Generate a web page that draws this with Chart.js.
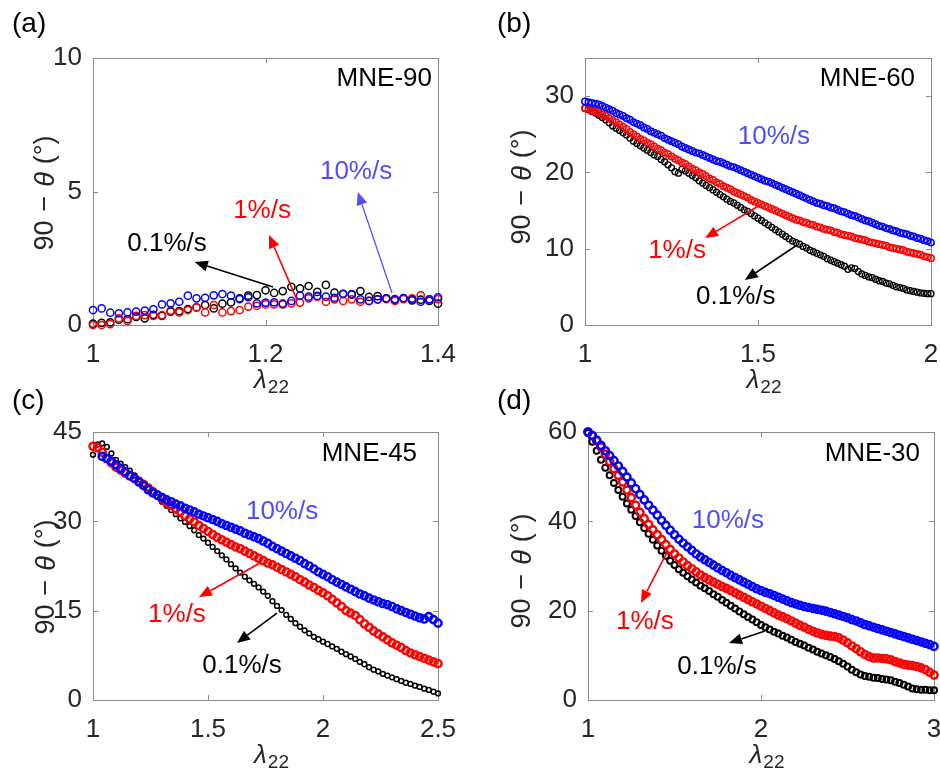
<!DOCTYPE html>
<html><head><meta charset="utf-8">
<script src="https://cdn.jsdelivr.net/npm/chart.js@4.4.1/dist/chart.umd.min.js"></script>
<style>
html,body{margin:0;padding:0;background:#fff;overflow:hidden;width:940px;height:774px;}
canvas{position:absolute;left:0;top:0;}
</style></head><body>
<canvas id="ca" width="980" height="800"></canvas>
<canvas id="cb" width="980" height="800"></canvas>
<canvas id="cc" width="980" height="800"></canvas>
<canvas id="cd" width="980" height="800"></canvas>
<script>
// ---------------- DATA ----------------
// (a) MNE-90
const lambdaA = [1.00,1.01,1.02,1.03,1.04,1.05,1.06,1.07,1.08,1.09,1.10,1.11,1.12,1.13,1.14,1.15,1.16,1.17,1.18,1.19,1.20,1.21,1.22,1.23,1.24,1.25,1.26,1.27,1.28,1.29,1.30,1.31,1.32,1.33,1.34,1.35,1.36,1.37,1.38,1.39,1.40];
const aBlack = [0.05,0.08,0.1,0.2,0.22,0.3,0.25,0.38,0.34,0.5,0.52,0.6,0.66,0.75,0.62,0.8,0.85,1.0,1.1,1.12,1.3,1.2,1.27,1.43,1.37,1.46,1.24,1.5,1.21,1.17,1.14,1.27,1.05,1.08,1.0,0.95,1.0,0.92,0.95,0.9,0.8];
const aRed = [0.0,0.0,0.03,0.25,0.15,0.34,0.37,0.34,0.37,0.54,0.47,0.56,0.66,0.47,0.75,0.47,0.52,0.56,0.69,0.72,0.77,0.77,0.81,0.81,0.84,1.0,1.06,0.87,0.96,0.90,0.96,0.87,0.90,0.96,0.97,0.90,0.97,1.0,1.11,0.96,0.97];
const aBlue = [0.56,0.62,0.46,0.44,0.47,0.5,0.54,0.59,0.77,0.81,0.87,1.10,1.0,1.02,1.11,1.16,1.10,0.97,1.04,0.81,0.84,0.85,0.77,0.90,1.10,1.06,1.09,1.06,1.02,1.16,1.16,0.96,0.90,0.96,1.0,0.97,1.01,0.96,0.87,0.96,1.04];

// (b) MNE-60
const lambdaB = [1.00,1.01,1.02,1.03,1.04,1.05,1.06,1.07,1.08,1.09,1.10,1.11,1.12,1.13,1.14,1.15,1.16,1.17,1.18,1.19,1.20,1.21,1.22,1.23,1.24,1.25,1.26,1.27,1.28,1.29,1.30,1.31,1.32,1.33,1.34,1.35,1.36,1.37,1.38,1.39,1.40,1.41,1.42,1.43,1.44,1.45,1.46,1.47,1.48,1.49,1.50,1.51,1.52,1.53,1.54,1.55,1.56,1.57,1.58,1.59,1.60,1.61,1.62,1.63,1.64,1.65,1.66,1.67,1.68,1.69,1.70,1.71,1.72,1.73,1.74,1.75,1.76,1.77,1.78,1.79,1.80,1.81,1.82,1.83,1.84,1.85,1.86,1.87,1.88,1.89,1.90,1.91,1.92,1.93,1.94,1.95,1.96,1.97,1.98,1.99,2.00];
const bBlue = [29.3,29.2,29.1,29.0,28.9,28.7,28.5,28.3,28.1,27.8,27.6,27.4,27.1,26.9,26.6,26.4,26.2,25.9,25.7,25.4,25.2,25.0,24.8,24.5,24.3,24.1,23.9,23.7,23.4,23.2,23.0,22.8,22.6,22.5,22.3,22.1,21.9,21.7,21.5,21.4,21.2,21.0,20.8,20.7,20.5,20.3,20.1,19.9,19.7,19.5,19.3,19.1,18.9,18.8,18.6,18.4,18.2,18.0,17.8,17.6,17.4,17.2,17.0,16.8,16.6,16.4,16.2,16.0,15.9,15.7,15.6,15.4,15.3,15.1,14.9,14.8,14.6,14.4,14.3,14.1,13.9,13.7,13.6,13.4,13.2,13.0,12.9,12.7,12.6,12.4,12.3,12.1,12.0,11.9,11.7,11.6,11.4,11.3,11.1,11.0,10.8];
const bRed = [28.4,28.3,28.1,28.0,27.8,27.6,27.4,27.1,26.8,26.6,26.3,26.0,25.7,25.3,25.0,24.7,24.4,24.2,23.9,23.7,23.4,23.1,22.9,22.6,22.4,22.1,21.8,21.6,21.3,21.1,20.8,20.5,20.3,20.0,19.8,19.5,19.2,19.0,18.7,18.5,18.2,18.0,17.8,17.5,17.3,17.1,16.9,16.7,16.4,16.2,16.0,15.8,15.6,15.4,15.2,15.0,14.8,14.6,14.4,14.2,14.0,13.8,13.7,13.5,13.4,13.2,13.1,12.9,12.8,12.6,12.5,12.4,12.2,12.1,11.9,11.8,11.7,11.6,11.4,11.3,11.2,11.1,10.9,10.8,10.7,10.6,10.5,10.4,10.2,10.1,10.0,9.9,9.8,9.6,9.5,9.4,9.3,9.2,9.0,8.9,8.75];
const bBlack = [28.4,28.2,28.0,27.8,27.5,27.2,26.9,26.5,26.1,25.8,25.5,25.2,24.9,24.5,24.1,23.8,23.5,23.2,22.9,22.6,22.3,22.1,21.7,21.4,21.0,20.6,20.1,19.9,20.4,20.2,19.9,19.6,19.3,18.9,18.6,18.3,18.0,17.7,17.4,17.1,16.8,16.5,16.2,16.0,15.7,15.4,15.1,14.9,14.6,14.3,14.0,13.7,13.4,13.1,12.8,12.5,12.2,11.9,11.6,11.3,11.0,10.8,10.6,10.3,10.1,9.8,9.6,9.4,9.2,9.0,8.7,8.5,8.3,8.1,7.9,7.7,7.3,7.5,7.4,7.0,6.7,6.5,6.3,6.2,6.0,5.8,5.7,5.5,5.4,5.2,5.0,4.9,4.8,4.6,4.5,4.4,4.3,4.2,4.15,4.1,4.1];

// (c) MNE-45
const lambdaC = [1.00,1.02,1.04,1.06,1.08,1.10,1.12,1.14,1.16,1.18,1.20,1.22,1.24,1.26,1.28,1.30,1.32,1.34,1.36,1.38,1.40,1.42,1.44,1.46,1.48,1.50,1.52,1.54,1.56,1.58,1.60,1.62,1.64,1.66,1.68,1.70,1.72,1.74,1.76,1.78,1.80,1.82,1.84,1.86,1.88,1.90,1.92,1.94,1.96,1.98,2.00,2.02,2.04,2.06,2.08,2.10,2.12,2.14,2.16,2.18,2.20,2.22,2.24,2.26,2.28,2.30,2.32,2.34,2.36,2.38,2.40,2.42,2.44,2.46,2.48,2.50];
const cBlack = [41.2,42.9,43.1,42.5,41.4,40.3,39.7,39.1,38.5,37.7,37.0,36.3,35.6,34.9,34.1,33.3,32.6,31.9,31.2,30.5,29.9,29.2,28.5,27.7,27.1,26.4,25.7,25.0,24.3,23.6,22.8,22.1,21.4,20.7,20.1,19.5,18.9,18.2,17.5,16.6,15.8,15.1,14.3,13.6,12.9,12.3,11.7,11.2,10.6,10.2,9.8,9.4,9.0,8.6,8.1,7.7,7.3,6.9,6.4,6.0,5.5,5.1,4.8,4.4,4.1,3.8,3.5,3.2,2.9,2.7,2.4,2.2,1.9,1.7,1.4,1.1];
const cRed = [42.6,42.4,41.6,40.5,39.8,39.1,38.6,38.1,37.6,37.2,36.7,36.2,35.6,35.0,34.4,33.8,33.2,32.7,32.1,31.6,30.9,30.4,29.9,29.3,28.8,28.3,27.8,27.3,26.9,26.5,26.1,25.7,25.4,25.0,24.6,24.2,23.8,23.4,23.0,22.7,22.3,21.9,21.5,21.1,20.7,20.2,19.8,19.3,18.9,18.4,18.0,17.5,16.9,16.3,15.7,15.0,14.6,14.2,13.5,12.8,12.2,11.6,11.1,10.6,10.1,9.6,9.2,8.8,8.3,7.9,7.6,7.3,7.0,6.7,6.4,6.1];
const cBlue = [null,null,40.9,40.6,40.1,39.5,38.9,38.3,37.7,37.2,36.6,36.0,35.3,34.8,34.4,34.0,33.6,33.3,32.9,32.6,32.2,31.9,31.6,31.2,30.9,30.6,30.3,30.0,29.6,29.3,29.0,28.7,28.4,28.0,27.7,27.4,27.1,26.7,26.3,25.8,25.4,25.0,24.6,24.2,23.8,23.4,22.9,22.5,22.0,21.5,21.1,20.7,20.2,19.8,19.4,19.0,18.6,18.2,17.8,17.5,17.1,16.8,16.5,16.2,16.0,15.7,15.3,15.0,14.7,14.4,14.1,13.8,13.6,14.0,13.5,12.9];

// (d) MNE-30
const lambdaD = [1.000,1.025,1.050,1.075,1.100,1.125,1.150,1.175,1.200,1.225,1.250,1.275,1.300,1.325,1.350,1.375,1.400,1.425,1.450,1.475,1.500,1.525,1.550,1.575,1.600,1.625,1.650,1.675,1.700,1.725,1.750,1.775,1.800,1.825,1.850,1.875,1.900,1.925,1.950,1.975,2.000,2.025,2.050,2.075,2.100,2.125,2.150,2.175,2.200,2.225,2.250,2.275,2.300,2.325,2.350,2.375,2.400,2.425,2.450,2.475,2.500,2.525,2.550,2.575,2.600,2.625,2.650,2.675,2.700,2.725,2.750,2.775,2.800,2.825,2.850,2.875,2.900,2.925,2.950,2.975,3.000];
const dBlue = [60.0,59.2,58.2,57.0,55.8,54.7,53.6,52.4,51.2,49.9,48.6,47.3,46.0,44.8,43.6,42.5,41.4,40.2,39.1,38.0,37.0,36.0,35.1,34.3,33.5,32.7,32.0,31.4,30.8,30.2,29.6,29.0,28.5,27.9,27.4,26.9,26.4,25.9,25.4,24.9,24.5,24.1,23.8,23.4,23.0,22.6,22.2,21.8,21.5,21.2,20.9,20.7,20.5,20.3,20.1,19.9,19.6,19.3,19.0,18.7,18.4,18.0,17.7,17.3,16.9,16.6,16.3,16.0,15.7,15.4,15.1,14.8,14.5,14.2,13.9,13.6,13.3,13.0,12.7,12.4,12.0];
const dRed = [60.0,59.2,58.0,56.6,55.0,53.4,51.8,50.3,48.8,47.0,45.3,43.6,42.0,40.6,39.3,38.1,37.0,35.9,34.8,33.7,32.7,31.8,30.9,30.1,29.4,28.7,28.0,27.4,26.9,26.4,25.9,25.4,25.0,24.5,24.0,23.5,23.0,22.5,22.0,21.5,21.0,20.5,20.0,19.5,19.0,18.6,18.2,17.7,17.2,16.7,16.3,15.8,15.4,15.0,14.7,14.5,14.3,14.2,13.9,13.4,12.8,12.1,11.5,10.8,10.2,9.7,9.4,9.4,9.3,9.2,9.0,8.6,8.3,8.0,7.8,7.7,7.5,7.2,6.8,6.2,5.6];
const dBlack = [59.8,57.8,55.8,53.8,52.0,50.3,48.6,47.0,45.5,44.0,42.6,41.2,39.8,38.5,37.2,35.9,34.6,33.4,32.3,31.2,30.2,29.3,28.5,27.7,27.0,26.3,25.6,25.0,24.4,23.7,23.1,22.4,21.8,21.1,20.5,19.8,19.2,18.6,18.0,17.4,16.8,16.3,15.8,15.3,14.9,14.4,14.0,13.5,13.0,12.6,12.2,11.7,11.3,10.8,10.4,10.0,9.6,9.2,8.7,8.1,7.5,6.8,6.2,5.7,5.4,5.2,5.0,4.9,4.7,4.6,4.4,4.1,3.8,3.4,3.0,2.6,2.4,2.3,2.3,2.2,2.2];

// tick labels
const xTicksA = [1, 1.2, 1.4], yTicksA = [0, 5, 10];
const xTicksB = [1, 1.5, 2],   yTicksB = [0, 10, 20, 30];
const xTicksC = [1, 1.5, 2, 2.5], yTicksC = [0, 15, 30, 45];
const xTicksD = [1, 2, 3],     yTicksD = [0, 20, 40, 60];

const rateLabels = ['0.1%/s', '1%/s', '10%/s'];

// ---------------- STYLE / LAYOUT ----------------
const FONT = '"Liberation Sans", Arial, Helvetica, sans-serif';
const C_BLACK = '#000000', C_RED = '#ff0000', C_BLUE = '#0000ff';
const C_BLUE_TXT = '#4d4dff';
const TICK_COLOR = '#262626';
const BOX_COLOR = '#8c8c8c';
const CW = 980, CH = 800, YW = 60, XH = 50;

function drawArrow(ctx, x1, y1, x2, y2, color, lw) {
  const ang = Math.atan2(y2 - y1, x2 - x1), L = 13, Wd = 5.5;
  const bx = x2 - L * Math.cos(ang), by = y2 - L * Math.sin(ang);
  ctx.save();
  ctx.strokeStyle = color; ctx.lineWidth = lw || 1.6;
  ctx.beginPath(); ctx.moveTo(x1, y1); ctx.lineTo(bx, by); ctx.stroke();
  ctx.fillStyle = color;
  ctx.beginPath(); ctx.moveTo(x2, y2);
  ctx.lineTo(bx + Wd * Math.sin(ang), by - Wd * Math.cos(ang));
  ctx.lineTo(bx - Wd * Math.sin(ang), by + Wd * Math.cos(ang));
  ctx.closePath(); ctx.fill();
  ctx.restore();
}

const decor = {
  id: 'decor',
  beforeDatasetsDraw(chart, args, o) {
    const ctx = chart.ctx, a = chart.chartArea;
    const xs = chart.scales.x, ys = chart.scales.y;
    ctx.save();
    ctx.strokeStyle = BOX_COLOR; ctx.lineWidth = 1;
    ctx.strokeRect(Math.round(a.left) + 0.5, Math.round(a.top) + 0.5, Math.round(a.right - a.left), Math.round(a.bottom - a.top));
    const tl = 5;
    ctx.beginPath();
    o.xTicks.forEach(v => {
      const px = Math.round(xs.getPixelForValue(v)) + 0.5;
      ctx.moveTo(px, a.bottom); ctx.lineTo(px, a.bottom - tl);
      ctx.moveTo(px, a.top); ctx.lineTo(px, a.top + tl);
    });
    o.yTicks.forEach(v => {
      const py = Math.round(ys.getPixelForValue(v)) + 0.5;
      ctx.moveTo(a.left, py); ctx.lineTo(a.left + tl, py);
      ctx.moveTo(a.right, py); ctx.lineTo(a.right - tl, py);
    });
    ctx.stroke();
    ctx.restore();
  },
  afterDraw(chart, args, o) {
    const ctx = chart.ctx, a = chart.chartArea;
    const xs = chart.scales.x, ys = chart.scales.y;
    const P = (x, y) => [xs.getPixelForValue(x), ys.getPixelForValue(y)];
    ctx.save();
    // panel tag
    ctx.fillStyle = '#000'; ctx.font = '28px ' + FONT;
    ctx.textAlign = 'left'; ctx.textBaseline = 'middle';
    ctx.fillText(o.tag, o.tagPos[0], o.tagPos[1]);
    // sample label
    ctx.font = '26px ' + FONT; ctx.textAlign = 'right';
    let p = P(o.sample.x, o.sample.y);
    ctx.fillText(o.sample.text, p[0], p[1]);
    // rate notes
    ctx.textAlign = 'center';
    o.notes.forEach(n => {
      ctx.fillStyle = n.color;
      const q = P(n.x, n.y);
      ctx.fillText(n.text, q[0], q[1]);
    });
    o.arrows.forEach(r => {
      const s = P(r.from[0], r.from[1]), e = P(r.to[0], r.to[1]);
      drawArrow(ctx, s[0], s[1], e[0], e[1], r.color, r.lw);
    });
    // y title: 90 − θ (°)
    ctx.save();
    ctx.translate(a.left + o.yTitle[0], (a.top + a.bottom) / 2 + o.yTitle[1]);
    ctx.rotate(-Math.PI / 2);
    ctx.fillStyle = TICK_COLOR; ctx.textBaseline = 'middle'; ctx.textAlign = 'left';
    const fs = 27;
    const parts = [
      { t: '90', f: fs + 'px ' + FONT, g: 0 },
      { t: '\u2212', f: fs + 'px ' + FONT, g: 9 },
      { t: '\u03b8', f: 'italic ' + fs + 'px ' + FONT, g: 9 },
      { t: '(\u00b0)', f: fs + 'px ' + FONT, g: 8 }
    ];
    let tot = 0;
    parts.forEach(pt => { ctx.font = pt.f; pt.w = ctx.measureText(pt.t).width; tot += pt.g + pt.w; });
    let cx = -tot / 2;
    parts.forEach(pt => { ctx.font = pt.f; cx += pt.g; ctx.fillText(pt.t, cx, 0); cx += pt.w; });
    ctx.restore();
    // x title: λ22
    ctx.fillStyle = TICK_COLOR; ctx.textBaseline = 'alphabetic'; ctx.textAlign = 'left';
    ctx.font = 'italic 26px ' + FONT;
    const wl = ctx.measureText('\u03bb').width;
    ctx.font = '19px ' + FONT;
    const ws = ctx.measureText('22').width;
    const x0 = (a.left + a.right) / 2 + 6 - (wl + ws + 1) / 2;
    ctx.font = 'italic 26px ' + FONT;
    ctx.fillText('\u03bb', x0, a.bottom + 63);
    ctx.font = '19px ' + FONT;
    ctx.fillText('22', x0 + wl + 1, a.bottom + 68);
    ctx.restore();
  }
};

function makeChart(id, cfg) {
  const ar = cfg.area;
  const ds = cfg.series.map(s => ({
    data: s.lambda.map((x, i) => ({ x: x, y: s.values[i] })).filter(q => q.y !== null),
    borderColor: s.color, pointBorderColor: s.color,
    backgroundColor: 'rgba(0,0,0,0)', pointBackgroundColor: 'rgba(0,0,0,0)',
    pointRadius: s.r, pointHoverRadius: s.r, pointBorderWidth: s.bw,
    pointStyle: 'circle', showLine: false, clip: false
  }));
  const tickFont = { family: FONT, size: 26 };
  new Chart(document.getElementById(id), {
    type: 'scatter',
    data: { datasets: ds },
    options: {
      responsive: false, animation: false, devicePixelRatio: 1, events: [],
      layout: { padding: { left: ar[0] - YW, top: ar[1], right: CW - ar[2], bottom: CH - ar[3] - XH } },
      plugins: { legend: { display: false }, tooltip: { enabled: false }, decor: cfg.decor },
      scales: {
        x: {
          type: 'linear', position: 'bottom', min: cfg.xr[0], max: cfg.xr[1],
          grid: { display: false }, border: { display: false },
          afterBuildTicks: sc => { sc.ticks = cfg.decor.xTicks.map(v => ({ value: v })); },
          afterFit: sc => { sc.height = XH; sc.paddingLeft = 0; sc.paddingRight = 0; },
          ticks: { padding: 6, color: TICK_COLOR, font: tickFont, maxRotation: 0, autoSkip: false, callback: v => String(v) }
        },
        y: {
          type: 'linear', position: 'left', min: cfg.yr[0], max: cfg.yr[1],
          grid: { display: false }, border: { display: false },
          afterBuildTicks: sc => { sc.ticks = cfg.decor.yTicks.map(v => ({ value: v })); },
          afterFit: sc => { sc.width = YW; sc.paddingTop = 0; sc.paddingBottom = 0; },
          ticks: { padding: 3, color: TICK_COLOR, font: tickFont, autoSkip: false, callback: v => String(v) }
        }
      }
    },
    plugins: [decor]
  });
}

// (a)
makeChart('ca', {
  area: [93, 58, 438, 325], xr: [1, 1.4], yr: [0, 10],
  series: [
    { lambda: lambdaA, values: aBlue, color: C_BLUE, r: 3.6, bw: 1.5 },
    { lambda: lambdaA, values: aRed, color: C_RED, r: 3.6, bw: 1.5 },
    { lambda: lambdaA, values: aBlack, color: C_BLACK, r: 3.6, bw: 1.5 }
  ],
  decor: {
    xTicks: xTicksA, yTicks: yTicksA, tag: '(a)', tagPos: [12, 24], yTitle: [-47, 1.5],
    sample: { text: 'MNE-90', x: 1.393, y: 9.21 },
    notes: [
      { text: rateLabels[2], color: C_BLUE_TXT, x: 1.305, y: 5.73 },
      { text: rateLabels[1], color: C_RED, x: 1.196, y: 4.27 },
      { text: rateLabels[0], color: C_BLACK, x: 1.0858, y: 3.03 }
    ],
    arrows: [
      { from: [1.3467, 1.2], to: [1.307, 4.98], color: '#5050ff', lw: 1.3 },
      { from: [1.2365, 0.94], to: [1.204, 3.37], color: C_RED, lw: 1.6 },
      { from: [1.2087, 1.42], to: [1.118, 2.36], color: C_BLACK, lw: 1.6 }
    ]
  }
});

// (b)
makeChart('cb', {
  area: [585, 58, 931, 325], xr: [1, 2], yr: [0, 35],
  series: [
    { lambda: lambdaB, values: bBlue, color: C_BLUE, r: 3.2, bw: 1.5 },
    { lambda: lambdaB, values: bRed, color: C_RED, r: 3.2, bw: 1.5 },
    { lambda: lambdaB, values: bBlack, color: C_BLACK, r: 3, bw: 1.3 }
  ],
  decor: {
    xTicks: xTicksB, yTicks: yTicksB, tag: '(b)', tagPos: [497, 24], yTitle: [-62, -4.5],
    sample: { text: 'MNE-60', x: 1.954, y: 32.25 },
    notes: [
      { text: rateLabels[2], color: C_BLUE_TXT, x: 1.546, y: 24.64 },
      { text: rateLabels[1], color: C_RED, x: 1.266, y: 9.70 },
      { text: rateLabels[0], color: C_BLACK, x: 1.436, y: 3.67 }
    ],
    arrows: [
      { from: [1.506, 15.73], to: [1.347, 11.40], color: C_RED, lw: 1.6 },
      { from: [1.613, 10.49], to: [1.462, 5.90], color: C_BLACK, lw: 1.6 }
    ]
  }
});

// (c)
makeChart('cc', {
  area: [93, 432, 438, 700], xr: [1, 2.5], yr: [0, 45],
  series: [
    { lambda: lambdaC, values: cBlue, color: C_BLUE, r: 3.6, bw: 2.4 },
    { lambda: lambdaC, values: cRed, color: C_RED, r: 3.6, bw: 2.4 },
    { lambda: lambdaC, values: cBlack, color: C_BLACK, r: 2.4, bw: 1.5 }
  ],
  decor: {
    xTicks: xTicksC, yTicks: yTicksC, tag: '(c)', tagPos: [12, 401], yTitle: [-46, 11],
    sample: { text: 'MNE-45', x: 2.409, y: 41.3 },
    notes: [
      { text: rateLabels[2], color: C_BLUE_TXT, x: 1.822, y: 31.57 },
      { text: rateLabels[1], color: C_RED, x: 1.365, y: 14.27 },
      { text: rateLabels[0], color: C_BLACK, x: 1.648, y: 5.71 }
    ],
    arrows: [
      { from: [1.726, 23.0], to: [1.461, 17.29], color: C_RED, lw: 1.6 },
      { from: [1.8, 14.6], to: [1.626, 9.57], color: C_BLACK, lw: 1.6 }
    ]
  }
});

// (d)
makeChart('cd', {
  area: [588, 432, 934, 700], xr: [1, 3], yr: [0, 60],
  series: [
    { lambda: lambdaD, values: dBlue, color: C_BLUE, r: 3.6, bw: 2.4 },
    { lambda: lambdaD, values: dRed, color: C_RED, r: 3.6, bw: 2.4 },
    { lambda: lambdaD, values: dBlack, color: C_BLACK, r: 3, bw: 2 }
  ],
  decor: {
    xTicks: xTicksD, yTicks: yTicksD, tag: '(d)', tagPos: [497, 401], yTitle: [-65, 5],
    sample: { text: 'MNE-30', x: 2.919, y: 55.07 },
    notes: [
      { text: rateLabels[2], color: C_BLUE_TXT, x: 1.809, y: 40.07 },
      { text: rateLabels[1], color: C_RED, x: 1.329, y: 17.46 },
      { text: rateLabels[0], color: C_BLACK, x: 1.746, y: 7.39 }
    ],
    arrows: [
      { from: [1.457, 33.13], to: [1.306, 21.71], color: C_RED, lw: 1.6 },
      { from: [2.023, 15.45], to: [1.815, 12.76], color: C_BLACK, lw: 1.6 }
    ]
  }
});
</script>
</body></html>
